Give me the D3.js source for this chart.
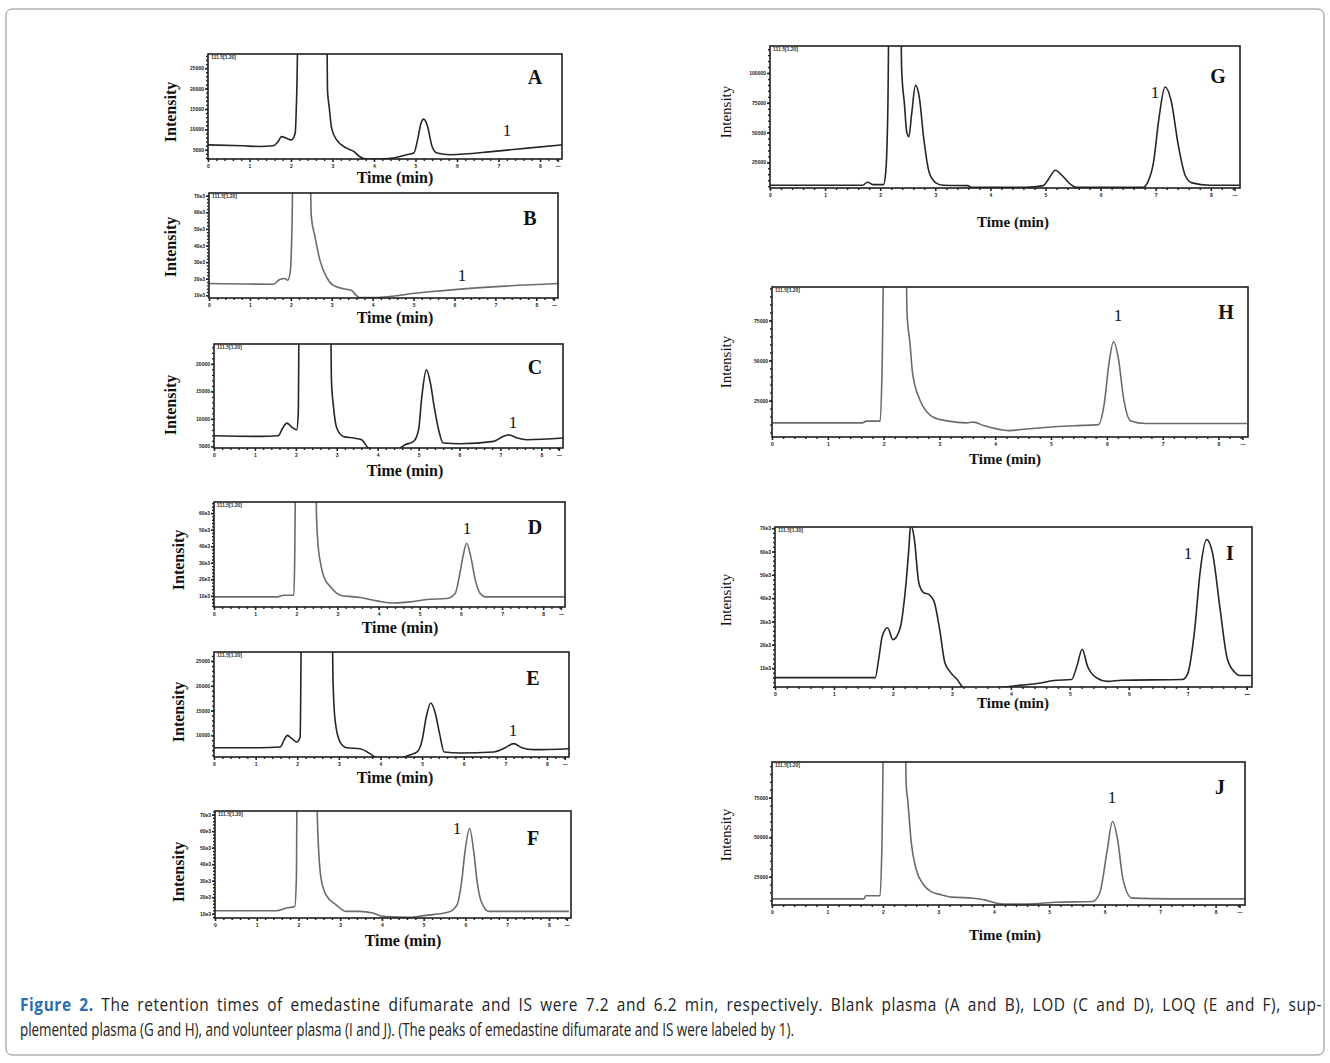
<!DOCTYPE html>
<html><head><meta charset="utf-8">
<script src="https://cdn.jsdelivr.net/npm/d3@7"></script>
<style>body{margin:0;background:#fff}svg{display:block}</style>
</head><body><svg id="c" width="1330" height="1063"></svg>
<script>
// ---------------- DATA ----------------
const panelIds = ["A","B","C","D","E","F","G","H","I","J"];
const timeTicks = [0,1,2,3,4,5,6,7,8];
const xTitle = "Time (min)";
const yTitle = "Intensity";
const peakLabel = "1";
const traceHeader = "111.5[1.20]";
const captionBold = "Figure 2.";
const captionLine1 = " The retention times of emedastine difumarate and IS were 7.2 and 6.2 min, respectively. Blank plasma (A and B), LOD (C and D), LOQ (E and F), sup-";
const captionLine2 = "plemented plasma (G and H), and volunteer plasma (I and J). (The peaks of emedastine difumarate and IS were labeled by 1).";

// [time (min), intensity]
const seriesA = [[0,6210],[0.85,5970],[1.25,5810],[1.57,5970],[1.69,7020],[1.77,8230],[1.89,7820],[2.01,7420],[2.10,9030],[2.14,19500],[2.18,40000],[2.86,40000],[2.88,19500],[2.92,15480],[2.98,10240],[3.10,7420],[3.34,5400],[3.51,4600],[3.67,3230],[3.83,2740],[4.07,2740],[4.47,2980],[4.79,3790],[4.96,4190],[5.05,7420],[5.13,11450],[5.20,12500],[5.28,11050],[5.40,5810],[5.52,4190],[5.84,3790],[6.89,4600],[7.70,5400],[8.54,6210]];
const seriesB = [[0,17100],[1.57,16700],[1.73,19500],[1.85,20100],[1.93,19100],[1.99,25200],[2.03,53400],[2.06,100000],[2.46,100000],[2.50,57500],[2.59,45400],[2.71,31200],[2.87,21100],[3.03,16100],[3.28,14000],[3.48,13000],[3.60,10000],[3.68,8600],[3.93,8600],[5.31,12000],[6.93,15100],[8.52,17100]];
const seriesC = [[0,6935],[1.13,6810],[1.57,6935],[1.68,8330],[1.78,9230],[1.90,8510],[2.02,8020],[2.06,11050],[2.09,40000],[2.84,40000],[2.87,17090],[2.92,12260],[3.00,8330],[3.16,6810],[3.41,6510],[3.61,6210],[3.78,4700],[4.39,4090],[4.67,5300],[4.88,5910],[5.00,8020],[5.08,14070],[5.19,18910],[5.29,16490],[5.38,12260],[5.49,8020],[5.60,5600],[6.02,5480],[6.84,5910],[7.04,6690],[7.20,7120],[7.41,6510],[7.65,6210],[8.53,6510]];
const seriesD = [[0,9400],[1.54,9400],[1.70,10400],[1.94,10400],[1.96,29600],[1.99,100000],[2.47,100000],[2.49,60000],[2.52,43800],[2.59,29600],[2.67,21500],[2.83,15500],[3.07,10400],[3.56,9000],[3.96,7000],[4.37,5700],[4.77,6400],[5.17,7800],[5.66,8400],[5.86,11400],[5.96,21500],[6.05,33700],[6.14,41800],[6.24,33700],[6.35,19500],[6.47,11400],[6.59,9400],[8.53,9400]];
const seriesE = [[0,7510],[1.11,7510],[1.59,7640],[1.68,8990],[1.76,10000],[1.87,9330],[1.99,8650],[2.07,9660],[2.11,40000],[2.83,40000],[2.86,21100],[2.91,13030],[3.03,8650],[3.19,7510],[3.51,7310],[3.75,6300],[3.90,5490],[4.31,4950],[4.68,5960],[4.88,6640],[5.00,8990],[5.10,13700],[5.21,16530],[5.32,14370],[5.42,10340],[5.53,6640],[5.92,6430],[6.72,6640],[7.00,7510],[7.20,8320],[7.40,7510],[7.68,7110],[8.55,7310]];
const seriesF = [[0,11800],[1.47,11800],[1.71,13400],[1.91,14400],[1.95,31500],[1.97,100000],[2.42,100000],[2.46,61600],[2.49,45500],[2.54,31500],[2.66,21400],[2.90,15400],[3.14,11400],[3.46,11400],[3.78,10400],[4.01,8400],[4.65,7800],[5.05,9000],[5.60,11000],[5.80,15400],[5.91,29500],[5.99,47600],[6.10,61600],[6.20,47600],[6.28,29500],[6.38,17400],[6.56,11400],[8.48,11400]];
const seriesG = [[0,5750],[1.68,5750],[1.77,8330],[1.87,6320],[2.06,6320],[2.10,16380],[2.14,73850],[2.17,200000],[2.36,200000],[2.39,102600],[2.44,73850],[2.48,50860],[2.52,46550],[2.57,65230],[2.64,89660],[2.71,79600],[2.79,45110],[2.89,16380],[3.01,7760],[3.14,5750],[3.59,5460],[3.65,4020],[4.64,4020],[4.96,5460],[5.05,10630],[5.18,18390],[5.31,13510],[5.46,6320],[5.56,4020],[6.77,4020],[6.85,7760],[6.96,25000],[7.06,62360],[7.17,88220],[7.28,76720],[7.41,39370],[7.54,13510],[7.66,7760],[7.98,5750],[8.52,5750]];
const seriesH = [[0,11120],[1.62,11120],[1.69,12220],[1.94,12220],[1.97,39760],[2.02,150000],[2.39,150000],[2.42,79400],[2.47,61780],[2.52,41960],[2.65,25440],[2.78,17730],[2.90,14430],[3.16,12220],[3.48,11120],[3.61,11560],[3.80,9360],[4.25,6280],[4.51,7160],[4.89,8260],[5.40,9360],[5.85,10020],[5.95,22140],[6.04,48570],[6.12,61780],[6.21,50770],[6.30,26540],[6.43,12220],[6.69,10680],[8.51,10680]];
const seriesI = [[0,5900],[1.70,5900],[1.76,14100],[1.82,23800],[1.91,27300],[2.00,22200],[2.12,27000],[2.21,43200],[2.27,61100],[2.30,71600],[2.36,65900],[2.44,46500],[2.52,42400],[2.61,41600],[2.70,38400],[2.79,27000],[2.88,12400],[2.97,8400],[3.09,5100],[3.21,1400],[3.58,1400],[4.18,2700],[4.48,3500],[4.73,4700],[5.03,5100],[5.12,10800],[5.21,18100],[5.30,10800],[5.45,5900],[5.64,4300],[5.88,4800],[6.91,5100],[7.00,7600],[7.12,27000],[7.21,51300],[7.32,65100],[7.42,59400],[7.55,35100],[7.67,14100],[7.79,8400],[7.88,6800],[8.09,6800]];
const seriesJ = [[0,10990],[1.66,10990],[1.69,12930],[1.95,12930],[1.98,40520],[2.03,150000],[2.39,150000],[2.42,83620],[2.45,72840],[2.51,46980],[2.60,29740],[2.73,20040],[2.86,15730],[3.05,13580],[3.25,12070],[3.64,11420],[3.83,10340],[4.16,7760],[4.61,7760],[5.13,8840],[5.78,9270],[5.91,14660],[6.04,40520],[6.14,59910],[6.23,49140],[6.33,23280],[6.49,11420],[7.21,10990],[8.54,10990]];

// intensity axis ranges and tick values per panel
const yRangeA = [2740, 28470],  yTicksA = [5000,10000,15000,20000,25000];
const yRangeB = [8400, 71600],  yTicksB = [10000,20000,30000,40000,50000,60000,70000];
const yRangeC = [4700, 23620],  yTicksC = [5000,10000,15000,20000];
const yRangeD = [3300, 66700],  yTicksD = [10000,20000,30000,40000,50000,60000];
const yRangeE = [5630, 26820],  yTicksE = [10000,15000,20000,25000];
const yRangeF = [7400, 72200],  yTicksF = [10000,20000,30000,40000,50000,60000,70000];
const yRangeG = [3450, 122700], yTicksG = [25000,50000,75000,100000];
const yRangeH = [2300, 95900],  yTicksH = [25000,50000,75000];
const yRangeI = [1900, 70500],  yTicksI = [10000,20000,30000,40000,50000,60000,70000];
const yRangeJ = [7100, 97600],  yTicksJ = [25000,50000,75000];
const timeRangeStd = [0, 8.53];
const timeRangeI = [0, 8.09];
const endTickStd = 8.43, endTickI = 8.0;

// ---------------- LAYOUT ----------------
const series = {A:seriesA,B:seriesB,C:seriesC,D:seriesD,E:seriesE,F:seriesF,G:seriesG,H:seriesH,I:seriesI,J:seriesJ};
const yRanges = {A:yRangeA,B:yRangeB,C:yRangeC,D:yRangeD,E:yRangeE,F:yRangeF,G:yRangeG,H:yRangeH,I:yRangeI,J:yRangeJ};
const yTicks = {A:yTicksA,B:yTicksB,C:yTicksC,D:yTicksD,E:yTicksE,F:yTicksF,G:yTicksG,H:yTicksH,I:yTicksI,J:yTicksJ};

const layout = {
  A:{box:[208,562,54,159], yt:[170,112], xt:[395,177], let:[535,77], pk:[507,130], dark:true, bold:true},
  B:{box:[209,558,193,298], yt:[170,247], xt:[395,317], let:[530,218], pk:[462,275], dark:false, bold:true},
  C:{box:[214,563,344,448], yt:[170,405], xt:[405,470], let:[535,367], pk:[513,422], dark:true, bold:true},
  D:{box:[214,565,502,607], yt:[178,560], xt:[400,627], let:[535,527], pk:[467,528], dark:false, bold:true},
  E:{box:[214,569,652,757], yt:[178,712], xt:[395,777], let:[533,678], pk:[513,730], dark:true, bold:true},
  F:{box:[215,571,811,918], yt:[178,872], xt:[403,940], let:[533,838], pk:[457,828], dark:false, bold:true},
  G:{box:[770,1240,46,188], yt:[726,112], xt:[1013,222], let:[1218,76], pk:[1155,92], dark:true, bold:false},
  H:{box:[772,1248,287,437], yt:[726,362], xt:[1005,459], let:[1226,312], pk:[1118,315], dark:false, bold:false},
  I:{box:[775,1252,527,687], yt:[726,600], xt:[1013,703], let:[1230,553], pk:[1188,553], dark:true, bold:false},
  J:{box:[772,1245,762,905], yt:[726,835], xt:[1005,935], let:[1220,787], pk:[1112,797], dark:false, bold:false}
};

const svg = d3.select("#c");
svg.append("rect").attr("x",6).attr("y",9).attr("width",1318).attr("height",1046)
  .attr("rx",6).attr("fill","none").attr("stroke","#8a8a8a").attr("stroke-width",1);

const serif = "'Liberation Serif','Times New Roman',serif";

panelIds.forEach(id => {
  const L = layout[id];
  const [bx0,bx1,by0,by1] = L.box;
  const tr = id === "I" ? timeRangeI : timeRangeStd;
  const endTick = id === "I" ? endTickI : endTickStd;
  const x = d3.scaleLinear().domain(tr).range([bx0,bx1]);
  const y = d3.scaleLinear().domain(yRanges[id]).range([by1,by0]);
  const g = svg.append("g");
  const stroke = L.dark ? "#262626" : "#6b6b6b";

  const cid = "clip"+id;
  svg.append("clipPath").attr("id",cid).append("rect")
    .attr("x",bx0).attr("y",by0).attr("width",bx1-bx0).attr("height",by1-by0);

  const line = d3.line().x(d=>x(d[0])).y(d=>y(d[1])).curve(d3.curveMonotoneX);
  g.append("path").datum(series[id]).attr("d",line).attr("clip-path",`url(#${cid})`)
    .attr("fill","none").attr("stroke",stroke).attr("stroke-width",1.6);

  g.append("rect").attr("x",bx0).attr("y",by0).attr("width",bx1-bx0).attr("height",by1-by0)
    .attr("fill","none").attr("stroke","#1e1e1e").attr("stroke-width",1.6);

  const minorX = d3.range(0, tr[1], 0.2).filter(v => Math.abs(v - Math.round(v)) > 1e-6);
  const axMinor = d3.axisBottom(x).tickValues(minorX).tickSize(2).tickFormat("");
  const gx1 = g.append("g").attr("transform",`translate(0,${by1})`).call(axMinor);
  gx1.select(".domain").remove();
  gx1.selectAll("line").attr("stroke","#222").attr("stroke-width",1.4);
  const majors = timeTicks.filter(v => v < tr[1] - 0.05);
  const axMajor = d3.axisBottom(x).tickValues(majors.concat([endTick]))
    .tickSize(3).tickPadding(2).tickFormat(v => v === endTick ? "—" : d3.format("d")(v));
  const gx2 = g.append("g").attr("transform",`translate(0,${by1})`).call(axMajor);
  gx2.select(".domain").remove();
  gx2.selectAll("line").attr("stroke","#222").attr("stroke-width",1.6);
  gx2.selectAll("text").attr("font-size",5).attr("font-weight","bold").attr("font-family","Arial,sans-serif").attr("fill","#222");

  const yt = yTicks[id];
  const step = yt[1]-yt[0];
  const minorY = d3.range(Math.ceil(yRanges[id][0]/(step/5))*(step/5), yRanges[id][1], step/5);
  const ayMinor = d3.axisLeft(y).tickValues(minorY).tickSize(2).tickFormat("");
  const gy1 = g.append("g").attr("transform",`translate(${bx0},0)`).call(ayMinor);
  gy1.select(".domain").remove();
  gy1.selectAll("line").attr("stroke","#222").attr("stroke-width",1.4);
  const ayMajor = d3.axisLeft(y).tickValues(yt).tickSize(3).tickPadding(1)
    .tickFormat(v => (id==="B"||id==="D"||id==="F"||id==="I") ? (v/1000)+"e3" : String(v));
  const gy2 = g.append("g").attr("transform",`translate(${bx0},0)`).call(ayMajor);
  gy2.select(".domain").remove();
  gy2.selectAll("line").attr("stroke","#222").attr("stroke-width",1.6);
  gy2.selectAll("text").attr("font-size",5).attr("font-weight","bold").attr("font-family","Arial,sans-serif").attr("fill","#222");

  g.append("text").attr("x",bx0+3).attr("y",by0+5).attr("font-size",5).attr("font-weight","bold")
    .attr("font-family","Arial,sans-serif").attr("fill","#333").text(traceHeader);

  const fw = L.bold ? "bold" : "normal";
  g.append("text").attr("transform",`translate(${L.yt[0]},${L.yt[1]}) rotate(-90)`)
    .attr("text-anchor","middle").attr("dominant-baseline","central")
    .attr("font-family",serif).attr("font-weight",fw).attr("font-size",L.bold?16:15)
    .attr("fill","#111").text(yTitle);
  g.append("text").attr("x",L.xt[0]).attr("y",L.xt[1]).attr("text-anchor","middle").attr("dominant-baseline","central")
    .attr("font-family",serif).attr("font-weight","bold").attr("font-size",L.bold?16:15)
    .attr("fill","#111").text(xTitle);
  g.append("text").attr("x",L.let[0]).attr("y",L.let[1]).attr("text-anchor","middle").attr("dominant-baseline","central")
    .attr("font-family",serif).attr("font-weight","bold").attr("font-size",20)
    .attr("fill","#111").text(id);
  g.append("text").attr("x",L.pk[0]).attr("y",L.pk[1]).attr("text-anchor","middle").attr("dominant-baseline","central")
    .attr("font-family",serif).attr("font-size",17)
    .attr("fill","#111").text(peakLabel);
});

// caption: condensed glyphs (horizontal squeeze); first line justified to full width
const capFont = "'Open Sans','DejaVu Sans',sans-serif";
const capSize = 17.5;
const line2G = svg.append("g");
const t2 = line2G.append("text").attr("x",0).attr("y",0).attr("font-family",capFont).attr("font-size",capSize).attr("fill","#222").text(captionLine2);
const w2 = t2.node().getComputedTextLength();
const k = 775 / w2;
line2G.attr("transform",`translate(20,1036) scale(${k},1)`);

const k1 = k * 1.15;
const line1G = svg.append("g").attr("transform",`translate(20,1011) scale(${k1},1)`);
const t1 = line1G.append("text").attr("x",0).attr("y",0).attr("font-family",capFont).attr("font-size",capSize).attr("fill","#222");
t1.append("tspan").attr("font-weight","bold").attr("fill","#2a6fb0").text(captionBold);
t1.append("tspan").text(captionLine1);
const w1 = t1.node().getComputedTextLength();
const full1 = captionBold + captionLine1;
const nSpaces = full1.split(" ").length - 1;
const extra = Math.max(0, 1302 / k1 - w1);
t1.attr("letter-spacing", extra * 0.5 / full1.length).attr("word-spacing", extra * 0.5 / nSpaces);
</script></body></html>
